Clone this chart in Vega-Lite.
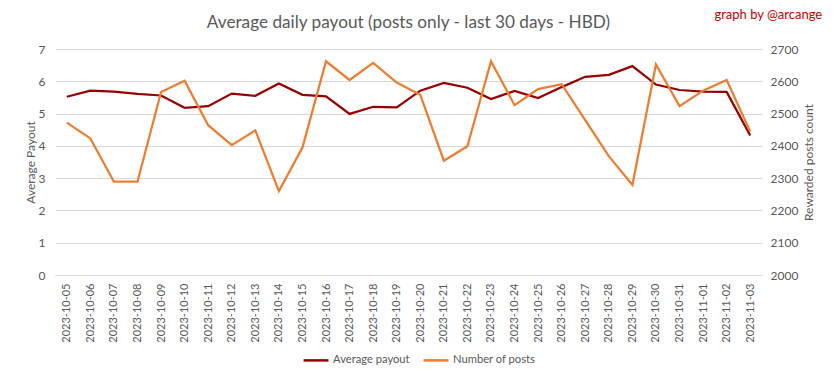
{
  "$schema": "https://vega.github.io/schema/vega-lite/v6.json",
  "autosize": "none",
  "width": 707,
  "height": 226,
  "padding": {"left": 55, "top": 49, "right": 71, "bottom": 104},
  "background": "white",
  "config": {
    "font": "Lato",
    "view": {"stroke": null},
    "axis": {"labelColor": "#595959", "titleColor": "#595959", "labelFontSize": 12, "titleFontSize": 12, "titleFontWeight": "normal", "ticks": false, "labelFont": "Lato", "titleFont": "Lato"}
  },
  "title": {
    "text": "Average daily payout (posts only - last 30 days - HBD)",
    "fontSize": 17.2,
    "fontWeight": "normal",
    "color": "#595959",
    "anchor": "middle",
    "offset": -22
  },
  "data": {
    "values": [
      {"date": "2023-10-05", "payout": 5.52, "posts": 2472},
      {"date": "2023-10-06", "payout": 5.71, "posts": 2423},
      {"date": "2023-10-07", "payout": 5.68, "posts": 2289},
      {"date": "2023-10-08", "payout": 5.61, "posts": 2289},
      {"date": "2023-10-09", "payout": 5.56, "posts": 2567},
      {"date": "2023-10-10", "payout": 5.18, "posts": 2602},
      {"date": "2023-10-11", "payout": 5.23, "posts": 2464},
      {"date": "2023-10-12", "payout": 5.62, "posts": 2402},
      {"date": "2023-10-13", "payout": 5.55, "posts": 2448},
      {"date": "2023-10-14", "payout": 5.93, "posts": 2260},
      {"date": "2023-10-15", "payout": 5.58, "posts": 2395},
      {"date": "2023-10-16", "payout": 5.53, "posts": 2662},
      {"date": "2023-10-17", "payout": 4.99, "posts": 2604},
      {"date": "2023-10-18", "payout": 5.21, "posts": 2657},
      {"date": "2023-10-19", "payout": 5.19, "posts": 2596},
      {"date": "2023-10-20", "payout": 5.71, "posts": 2558},
      {"date": "2023-10-21", "payout": 5.95, "posts": 2354},
      {"date": "2023-10-22", "payout": 5.80, "posts": 2399},
      {"date": "2023-10-23", "payout": 5.45, "posts": 2662},
      {"date": "2023-10-24", "payout": 5.70, "posts": 2526},
      {"date": "2023-10-25", "payout": 5.48, "posts": 2576},
      {"date": "2023-10-26", "payout": 5.82, "posts": 2591},
      {"date": "2023-10-27", "payout": 6.14, "posts": 2480},
      {"date": "2023-10-28", "payout": 6.20, "posts": 2368},
      {"date": "2023-10-29", "payout": 6.47, "posts": 2279},
      {"date": "2023-10-30", "payout": 5.90, "posts": 2652},
      {"date": "2023-10-31", "payout": 5.73, "posts": 2523},
      {"date": "2023-11-01", "payout": 5.68, "posts": 2571},
      {"date": "2023-11-02", "payout": 5.67, "posts": 2604},
      {"date": "2023-11-03", "payout": 4.32, "posts": 2444}
    ]
  },
  "encoding": {
    "x": {
      "field": "date",
      "type": "ordinal",
      "scale": {"type": "point", "padding": 0.5},
      "axis": {"title": null, "labelAngle": -90, "labelPadding": 8, "domainColor": "#d9d9d9", "grid": false, "labelFontSize": 11}
    }
  },
  "layer": [
    {
      "mark": {"type": "line", "strokeWidth": 2.25},
      "encoding": {
        "y": {
          "field": "payout",
          "type": "quantitative",
          "scale": {"domain": [0, 7], "nice": false},
          "axis": {"title": "Average Payout", "values": [0, 1, 2, 3, 4, 5, 6, 7], "grid": true, "gridColor": "#d9d9d9", "domain": false, "labelPadding": 10, "titlePadding": 1, "labelOverlap": false}
        },
        "color": {
          "datum": "Average payout",
          "type": "nominal",
          "scale": {"domain": ["Average payout", "Number of posts"], "range": ["#960000", "#ed7d31"]},
          "legend": {"title": null, "orient": "none", "legendX": 247, "legendY": 297, "direction": "horizontal", "symbolType": "stroke", "symbolStrokeWidth": 2.5, "symbolSize": 620, "labelFontSize": 11.2, "labelColor": "#595959", "columnPadding": 8, "labelOffset": 3}
        }
      }
    },
    {
      "mark": {"type": "line", "strokeWidth": 2.25},
      "encoding": {
        "y": {
          "field": "posts",
          "type": "quantitative",
          "scale": {"domain": [2000, 2700], "nice": false},
          "axis": {"title": "Rewarded posts count", "orient": "right", "format": "d", "values": [2000, 2100, 2200, 2300, 2400, 2500, 2600, 2700], "grid": false, "domain": false, "labelPadding": 8, "titleAngle": 270, "titleBaseline": "top", "titlePadding": 6, "labelOverlap": false}
        },
        "color": {"datum": "Number of posts", "type": "nominal"}
      }
    },
    {
      "data": {"values": [{"label": "graph by @arcange"}]},
      "mark": {"type": "text", "align": "right", "baseline": "middle", "dx": 72, "color": "#c00000", "fontSize": 13, "font": "Lato"},
      "encoding": {
        "x": {"datum": "2023-11-03", "type": "ordinal"},
        "y": {"datum": 8.05, "type": "quantitative", "scale": {"domain": [0, 7], "nice": false}, "axis": null},
        "text": {"field": "label"}
      }
    }
  ],
  "resolve": {"scale": {"y": "independent"}}
}
